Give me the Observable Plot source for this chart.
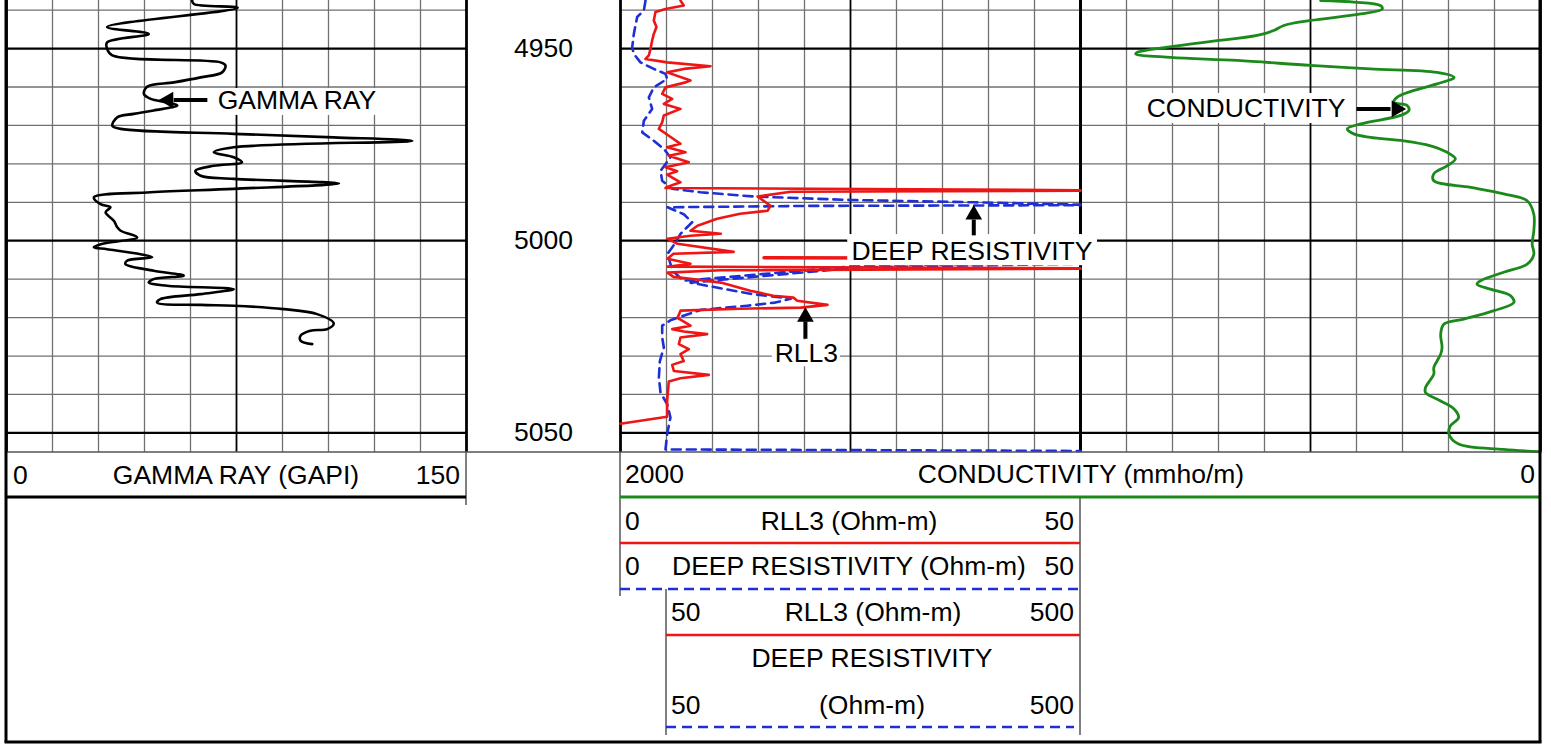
<!DOCTYPE html>
<html><head><meta charset="utf-8">
<script src="https://cdn.jsdelivr.net/npm/d3@7"></script>
<script src="https://cdn.jsdelivr.net/npm/@observablehq/plot@0.6"></script>
<style>
body{margin:0;background:#fff;}
#wrap{position:relative;width:1551px;height:744px;overflow:hidden;background:#fff;}
</style></head><body><div id="wrap"></div>
<script>
// ---------- data ----------
const depthRange = [4937.5, 5055.1];
const depthLabels = [4950, 5000, 5050];
const gammaScale = [0, 150];
const resScale = [0, 50];
const resBackupScale = [50, 500];
const condScale = [2000, 0];

// [depth (ft), GAPI]
const gammaRay = [[4937.5,60.5],[4938.4,61.1],[4939.4,75.4],[4944.4,32.8],[4946.2,46.4],[4948.4,32.8],[4950.1,32.8],[4951.8,34.5],[4953.6,69.8],[4954.4,71.4],[4956.2,70.3],[4957.5,63.3],[4958.8,54.6],[4959.9,45.9],[4961.8,44.8],[4963.1,47.0],[4964.0,52.4],[4964.8,55.7],[4966.1,48.0],[4967.0,41.5],[4967.9,36.1],[4970.1,34.5],[4970.9,37.2],[4972.2,74.1],[4973.1,106.7],[4974.0,132.3],[4975.7,74.1],[4977.0,67.6],[4978.3,74.1],[4979.6,76.8],[4980.5,67.6],[4981.8,61.6],[4983.1,63.3],[4983.9,74.1],[4985.1,108.4],[4986.5,74.1],[4987.4,47.0],[4988.7,28.5],[4990.5,30.7],[4991.3,33.9],[4992.6,32.3],[4994.8,35.0],[4996.5,36.1],[4997.4,37.2],[4999.1,42.6],[5000.9,30.7],[5001.7,28.5],[5002.2,32.8],[5003.5,43.7],[5004.3,47.5],[5005.2,39.3],[5006.1,38.8],[5007.8,48.0],[5009.1,57.8],[5010.0,48.0],[5010.9,46.4],[5011.7,52.4],[5012.6,74.1],[5013.9,63.3],[5015.2,50.2],[5016.1,49.1],[5016.7,63.3],[5016.9,74.1],[5017.8,90.4],[5019.1,101.3],[5021.5,106.7],[5023.0,104.6],[5023.4,99.1],[5024.7,95.9],[5026.0,95.9],[5026.9,99.7]];

// [depth (ft), Ohm-m]
const rll3 = [[4937.5,6.52],[4938.8,6.88],[4939.7,4.89],[4940.5,3.80],[4942.7,3.62],[4944.4,3.91],[4946.2,3.62],[4947.9,3.44],[4950.1,3.26],[4951.8,3.08],[4952.7,2.72],[4953.6,5.07],[4954.6,9.78],[4955.3,6.88],[4956.2,5.07],[4958.3,7.61],[4958.8,7.07],[4960.1,4.89],[4961.8,4.53],[4963.1,5.62],[4964.4,4.71],[4965.7,6.52],[4967.4,4.71],[4969.2,4.53],[4970.9,4.17],[4972.7,5.25],[4974.8,6.52],[4975.7,5.07],[4977.0,7.07],[4977.9,5.25],[4979.6,7.43],[4980.9,4.89],[4981.9,6.16],[4982.8,5.07],[4984.8,6.52],[4986.0,5.07],[4986.3,4.89],[4986.85,50],[4987.0,50],[4987.25,18.5],[4988.5,14.9],[4990.9,16.3],[4992.2,16.0],[4993.0,13.0],[4994.3,10.5],[4996.1,8.37],[4997.4,7.61],[4998.2,10.9],[4998.7,7.61],[4999.5,5.11],[5000.8,6.20],[5002.9,12.3],[5003.4,5.76],[5004.7,5.11],[5006.0,7.61],[5006.75,5.11],[5007.15,50],[5007.3,50],[5007.7,10.9],[5008.3,5.11],[5009.4,5.76],[5009.9,7.61],[5010.9,10.9],[5013.0,14.1],[5014.3,16.6],[5014.8,18.8],[5015.6,19.2],[5016.7,22.5],[5017.4,19.6],[5017.7,13.0],[5018.2,6.52],[5020.1,6.20],[5022.1,7.61],[5023.0,5.62],[5023.6,6.88],[5024.3,9.42],[5025.2,6.52],[5026.9,6.34],[5028.2,7.43],[5029.5,6.52],[5031.3,6.88],[5032.3,5.62],[5033.9,5.80],[5034.9,9.60],[5035.8,6.52],[5036.6,5.25],[5041.7,5.07],[5045.8,5.07],[5047.6,0]];

// [depth (ft), Ohm-m on the 50-500 backup scale]
const rll3Backup = [[5004.4,156],[5004.5,300],[5004.6,500]];

// [depth (ft), Ohm-m]
const deepRes = [[4937.5,2.72],[4940.1,2.54],[4941.8,1.81],[4946.2,1.45],[4949.7,1.27],[4951.4,1.45],[4953.6,2.17],[4955.3,3.62],[4956.6,4.89],[4957.9,5.07],[4960.1,3.62],[4962.7,3.08],[4965.7,3.44],[4968.8,2.54],[4971.8,2.36],[4974.0,3.62],[4976.1,4.71],[4978.3,5.43],[4981.8,4.35],[4984.4,4.53],[4986.5,5.62],[4987.4,8.70],[4988.5,14.5],[4989.4,25.0],[4990.0,38.4],[4990.6,50],[4990.75,50],[4990.95,20.0],[4991.3,5.11],[4993.1,6.88],[4995.2,7.79],[4998.2,6.52],[5000.5,5.98],[5003.4,5.11],[5007.8,5.65],[5010.4,6.85],[5006.5,26.1],[5005.7,50],[5006.0,50],[5006.9,26.1],[5010.9,7.61],[5013.8,14.1],[5015.1,18.5],[5016.1,16.8],[5016.9,13.8],[5018.0,8.7],[5019.5,6.85],[5020.7,5.43],[5022.1,4.53],[5025.2,4.53],[5027.8,4.71],[5031.3,4.28],[5035.6,4.17],[5039.5,4.35],[5042.5,5.07],[5046.0,5.43],[5050.3,5.07],[5054.3,4.89],[5054.7,50]];

// [depth (ft), mmho/m]
const conductivity = [[4937.5,478],[4937.9,406],[4938.8,348],[4939.7,344],[4941.0,391],[4942.7,500],[4944.0,558],[4945.3,580],[4946.6,616],[4948.4,732],[4951.0,877],[4951.4,880],[4952.3,804],[4953.1,659],[4954.4,500],[4955.3,370],[4956.2,225],[4957.5,188],[4959.2,225],[4960.9,275],[4962.7,312],[4964.0,319],[4964.8,290],[4966.1,286],[4967.4,304],[4969.6,391],[4970.9,420],[4972.2,406],[4973.1,370],[4974.0,297],[4975.3,239],[4977.0,203],[4978.7,185],[4980.5,203],[4982.6,232],[4984.4,232],[4986.1,152],[4987.8,80],[4989.6,29],[4993.1,14.5],[4997.4,14.5],[5000.9,18.1],[5003.5,14.5],[5006.1,29],[5008.2,80],[5010.4,130],[5011.3,138],[5012.6,109],[5014.3,65],[5016.1,58],[5018.2,101],[5020.4,167],[5021.7,210],[5024.3,217],[5027.8,214],[5029.5,217],[5031.3,225],[5033.0,232],[5034.7,232],[5038.2,250],[5039.5,250],[5041.7,217],[5043.8,188],[5046.0,178],[5048.2,196],[5050.3,199],[5052.9,178],[5054.3,80],[5054.9,0]];

// curve annotations (anchored in data units of their track)
const gammaNote = {text: "GAMMA RAY", x: 94.7, depth: 4963.6, box: [67.2, 121.9, 4960.4, 4967.4],
  arrow: {x1: 65.5, d1: 4963.4, x2: 54.5, d2: 4963.4, hx: 52.8, hd: 4963.4, rotate: -90}};
const condNote = {text: "CONDUCTIVITY", x: 640, depth: 4965.6, box: [863, 406.5, 4961.7, 4969.5],
  arrow: {x1: 400, d1: 4965.7, x2: 326, d2: 4965.7, hx: 313, hd: 4965.7, rotate: 90}};
const deepNote = {text: "DEEP RESISTIVITY", x: 38.2, depth: 5002.9, box: [24.7, 51.85, 4998.4, 5006.5],
  arrow: {x1: 38.4, d1: 4998.6, x2: 38.4, d2: 4994.5, hx: 38.4, hd: 4993.2, rotate: 0}};
const rllNote = {text: "RLL3", x: 20.2, depth: 5029.3, box: [16.5, 23.9, 5025.8, 5032.8],
  arrow: {x1: 20.1, d1: 5025.5, x2: 20.1, d2: 5021.0, hx: 20.1, hd: 5019.8, rotate: 0}};

// ---------- drawing ----------
const FONT = '"Liberation Sans", Arial, Helvetica, sans-serif';
const FS = 26.5;
const RED = "#ee1515", BLUE = "#1f2fd6", GREEN = "#1b8a1b";
const MINOR = "#707070";
const wrap = document.getElementById("wrap");
const H = 452;
const STYLE = `background: transparent; overflow: visible; max-width: none; font-family: ${FONT}; font-size: ${FS}px; color: black;`;
const depthGrid = d3.range(4940, 5051, 10);
const minorDepth = depthGrid.filter(d => d % 50 !== 0);
const majorDepth = depthGrid.filter(d => d % 50 === 0);

function track(left, width, xDomain, marks) {
  const svg = Plot.plot({
    width, height: H, marginTop: 0, marginRight: 0, marginBottom: 0, marginLeft: 0,
    x: {domain: xDomain, axis: null},
    y: {domain: depthRange, reverse: true, axis: null},
    style: STYLE,
    marks
  });
  svg.style.position = "absolute";
  svg.style.left = left + "px";
  svg.style.top = "0px";
  wrap.appendChild(svg);
  return svg;
}

function noteMarks(n) {
  return [
    Plot.rect([n], {x1: d => d.box[0], x2: d => d.box[1], y1: d => d.box[2], y2: d => d.box[3], fill: "white"}),
    Plot.text([n], {x: "x", y: "depth", text: "text", fontSize: FS, fill: "black"}),
    Plot.link([n], {x1: d => d.arrow.x1, y1: d => d.arrow.d1, x2: d => d.arrow.x2, y2: d => d.arrow.d2, stroke: "black", strokeWidth: 4}),
    Plot.dot([n], {x: d => d.arrow.hx, y: d => d.arrow.hd, symbol: "triangle", r: 6.2, fill: "black", rotate: n.arrow.rotate})
  ];
}

function gridMarks(ticks, mid, ends, x1, x2) {
  const ext = x1 === undefined ? {} : {x1: () => x1, x2: () => x2};
  return [
    Plot.ruleY(minorDepth, {...ext, stroke: MINOR, strokeWidth: 1.3}),
    Plot.ruleX(ticks.filter(t => t !== mid && !ends.includes(t)), {stroke: MINOR, strokeWidth: 1.3}),
    Plot.ruleY(majorDepth, {...ext, stroke: "black", strokeWidth: 2.2}),
    Plot.ruleX([mid], {stroke: "black", strokeWidth: 1.8}),
    Plot.ruleX(ends, {stroke: "black", strokeWidth: 2.8})
  ];
}

// Gamma ray track
track(6, 460, gammaScale, [
  ...gridMarks(d3.range(0, 151, 15), 75, [0, 150]),
  Plot.line(gammaRay, {x: d => d[1], y: d => d[0], stroke: "black", strokeWidth: 2.6, curve: "catmull-rom"}),
  ...noteMarks(gammaNote)
]);

// Depth track
track(466, 154, [0, 1], [
  Plot.text(depthLabels, {y: d => d, text: d => String(d), frameAnchor: "middle", fontSize: FS, fill: "black"})
]);

// Conductivity track (scale 2000 -> 0 across both right tracks)
track(620, 920, condScale, [
  ...gridMarks(d3.range(0, 1001, 100), 500, [1000, 0], 1000, 0),
  Plot.line(conductivity, {x: d => d[1], y: d => d[0], stroke: GREEN, strokeWidth: 2.8, curve: "catmull-rom"}),
  ...noteMarks(condNote)
]);

// Resistivity track
track(620, 460, resScale, [
  ...gridMarks(d3.range(0, 51, 5), 25, [0, 50]),
  Plot.line(deepRes, {x: d => d[1], y: d => d[0], stroke: BLUE, strokeWidth: 2.6, strokeDasharray: "9,6"}),
  Plot.line(rll3, {x: d => d[1], y: d => d[0], stroke: RED, strokeWidth: 2.6}),
  Plot.line(rll3Backup, {x: d => d[1] * resScale[1] / resBackupScale[1], y: d => d[0], stroke: RED, strokeWidth: 3.5}),
  ...noteMarks(deepNote),
  ...noteMarks(rllNote)
]);

// ---------- header (scale legend) ----------
const hdr = d3.create("svg").attr("width", 1551).attr("height", 744)
  .style("position", "absolute").style("left", "0px").style("top", "0px").style("overflow", "visible");
function hl(x1, y1, x2, y2, stroke, w, dash) {
  const l = hdr.append("line").attr("x1", x1).attr("y1", y1).attr("x2", x2).attr("y2", y2)
    .attr("stroke", stroke).attr("stroke-width", w);
  if (dash) l.attr("stroke-dasharray", dash);
}
function ht(x, y, s, anchor) {
  hdr.append("text").attr("x", x).attr("y", y).attr("dy", "0.35em").attr("text-anchor", anchor)
    .attr("font-size", FS).attr("font-family", FONT).attr("fill", "black").text(s);
}
hl(6, 452, 1540, 452, "#555", 1.5);
hl(466, 452, 466, 505, "#555", 1.5);
hl(6, 497, 466, 497, "black", 3);
hl(620, 452, 620, 596, "#555", 1.5);
hl(620, 497, 1540, 497, GREEN, 3);
hl(1080, 497, 1080, 735, "#555", 1.5);
hl(620, 543, 1080, 543, RED, 2.6);
hl(620, 589, 1080, 589, BLUE, 2.6, "10,6");
hl(666, 589, 666, 735, "#555", 1.5);
hl(666, 635, 1080, 635, RED, 2.6);
hl(666, 727, 1074, 727, BLUE, 2.6, "10,6");
hl(6, 0, 6, 742, "black", 3);
hl(1540, 0, 1540, 742, "black", 3);
hl(4.5, 742, 1541.5, 742, "black", 3);

ht(13, 475, String(gammaScale[0]), "start");
ht(236, 475, "GAMMA RAY (GAPI)", "middle");
ht(460, 475, String(gammaScale[1]), "end");
ht(625, 474, String(condScale[0]), "start");
ht(1081, 474, "CONDUCTIVITY (mmho/m)", "middle");
ht(1535, 474, String(condScale[1]), "end");
ht(625, 521, String(resScale[0]), "start");
ht(849, 521, "RLL3 (Ohm-m)", "middle");
ht(1074, 521, String(resScale[1]), "end");
ht(625, 566, String(resScale[0]), "start");
ht(849, 566, "DEEP RESISTIVITY (Ohm-m)", "middle");
ht(1074, 566, String(resScale[1]), "end");
ht(671, 612, String(resBackupScale[0]), "start");
ht(873, 612, "RLL3 (Ohm-m)", "middle");
ht(1074, 612, String(resBackupScale[1]), "end");
ht(872, 658, "DEEP RESISTIVITY", "middle");
ht(671, 705, String(resBackupScale[0]), "start");
ht(872, 705, "(Ohm-m)", "middle");
ht(1074, 705, String(resBackupScale[1]), "end");
wrap.appendChild(hdr.node());
</script></body></html>
